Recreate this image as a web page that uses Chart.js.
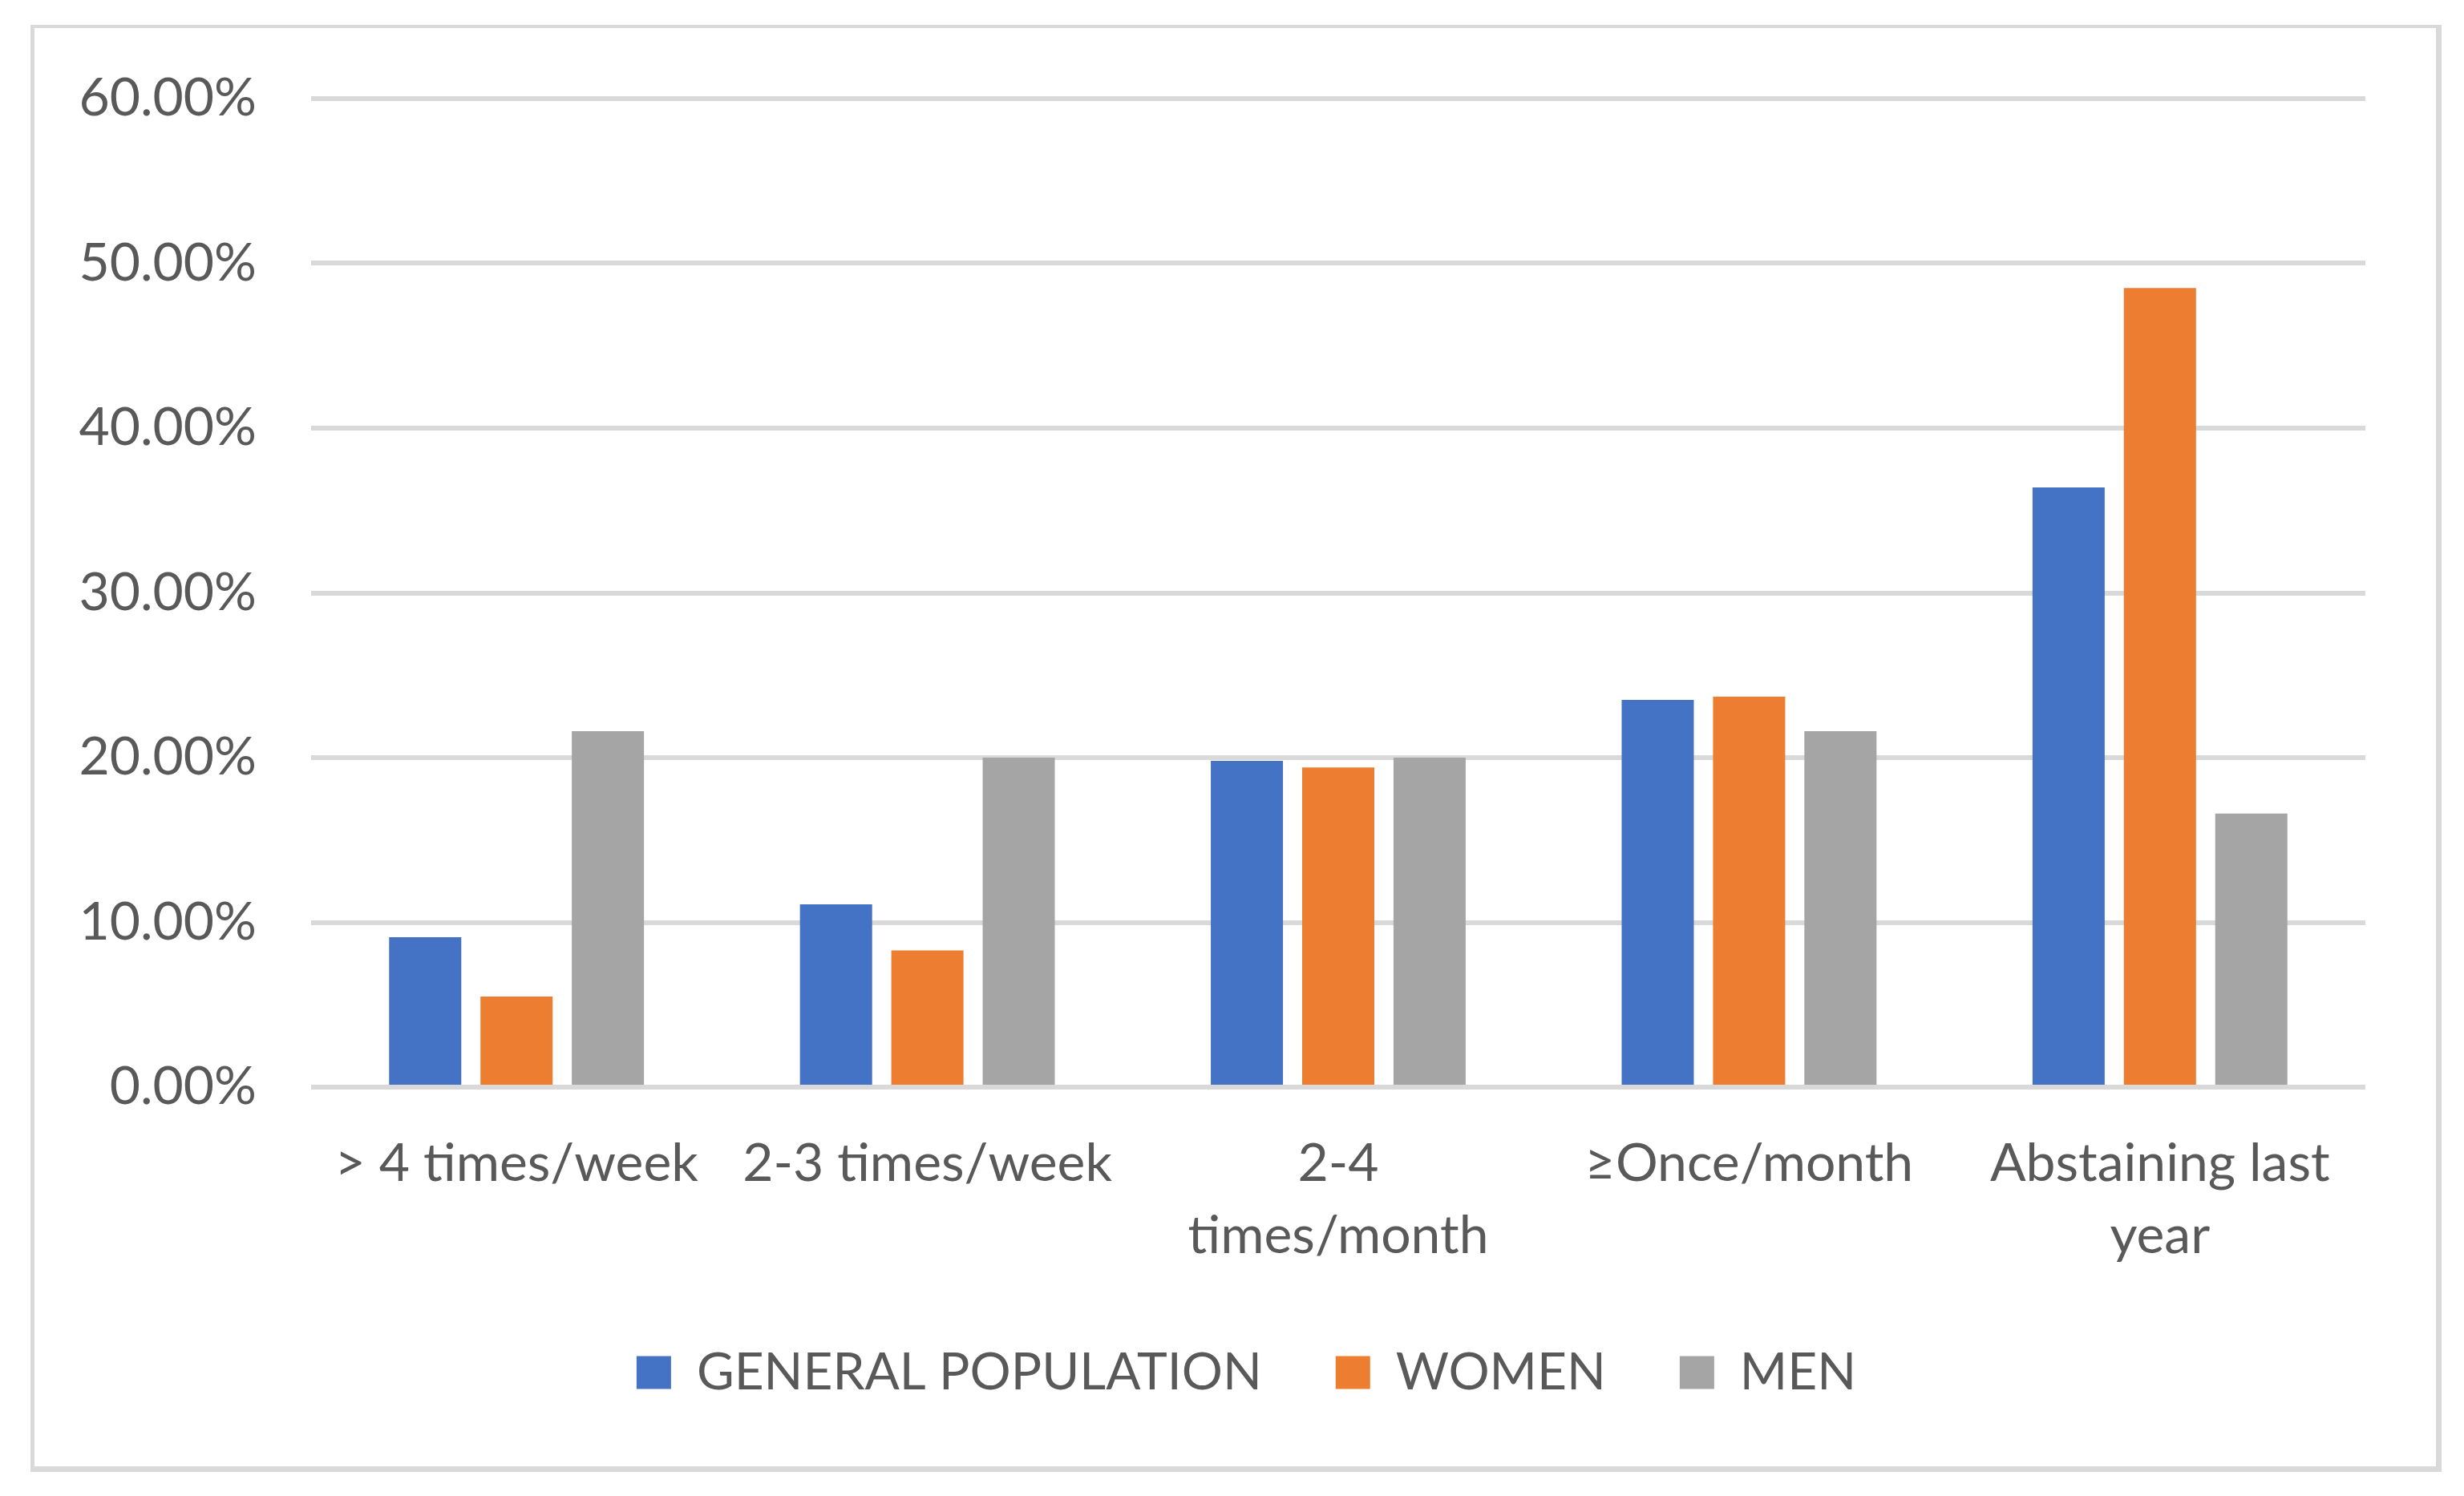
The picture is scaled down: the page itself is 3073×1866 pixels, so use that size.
<!DOCTYPE html>
<html>
<head>
<meta charset="utf-8">
<script src="https://cdn.jsdelivr.net/npm/chart.js@4"></script>
<style>
  html, body { margin: 0; padding: 0; background: #fff; }
  #frame {
    position: absolute;
    left: 38px; top: 31px;
    width: 2995px; height: 1794px;
    border-style: solid;
    border-color: #d9d9d9;
    border-width: 4px 7px 7px 5px;
  }
</style>
</head>
<body>
<div id="frame"><canvas id="chart"></canvas></div>
<script>
// drinking frequency categories
const categories = [
  '> 4 times/week',
  '2-3 times/week',
  ['2-4', 'times/month'],
  '\u2265Once/month',
  ['Abstaining last', 'year']
];

// values in percent
const generalPopulation = [9.1, 11.1, 19.8, 23.5, 36.4];
const women = [5.5, 8.3, 19.4, 23.7, 48.5];
const men = [21.6, 20.0, 20.0, 21.6, 16.6];

const yTicks = [0, 10, 20, 30, 40, 50, 60];

const textColor = '#595959';
const gridColor = '#d9d9d9';
const fontFamily = 'Lato, "Open Sans", sans-serif';

// the legend in the original is centred on the whole frame, not the plot
const legendShift = {
  id: 'legendShift',
  afterLayout(chart) {
    chart.legend.left += 58;
    chart.legend.right += 58;
  }
};

const ctx = document.getElementById('chart').getContext('2d');

new Chart(ctx, {
  type: 'bar',
  data: {
    labels: categories,
    datasets: [
      { label: 'GENERAL POPULATION', data: generalPopulation, backgroundColor: '#4472C4' },
      { label: 'WOMEN', data: women, backgroundColor: '#ED7D31' },
      { label: 'MEN', data: men, backgroundColor: '#A5A5A5' }
    ]
  },
  options: {
    responsive: true,
    maintainAspectRatio: false,
    animation: false,
    categoryPercentage: 0.667,
    barPercentage: 0.79,
    layout: {
      padding: { left: 0, right: 88, top: 88, bottom: 75 }
    },
    plugins: {
      legend: {
        position: 'bottom',
        labels: {
          color: textColor,
          font: { family: fontFamily, size: 64 },
          boxWidth: 43,
          boxHeight: 41,
          padding: 92
        }
      },
      tooltip: { enabled: false }
    },
    scales: {
      x: {
        grid: { display: false, drawTicks: false },
        border: { display: false },
        ticks: {
          color: textColor,
          font: { family: fontFamily, size: 66, lineHeight: 1.36 },
          padding: 51,
          maxRotation: 0,
          autoSkip: false
        },
        afterFit: (scale) => { scale.height = 232; }
      },
      y: {
        min: 0,
        max: 60,
        afterBuildTicks: (scale) => {
          scale.ticks = yTicks.map(v => ({ value: v }));
        },
        // invisible tick marks give the gap between labels and plot
        grid: { color: gridColor, lineWidth: 6, drawTicks: true, tickLength: 68, tickColor: 'rgba(0,0,0,0)' },
        border: { display: false },
        ticks: {
          color: textColor,
          font: { family: fontFamily, size: 66 },
          padding: 0,
          callback: (v) => v.toFixed(2) + '%'
        },
        afterFit: (scale) => { scale.width = 345; }
      }
    }
  },
  plugins: [legendShift]
});
</script>
</body>
</html>
